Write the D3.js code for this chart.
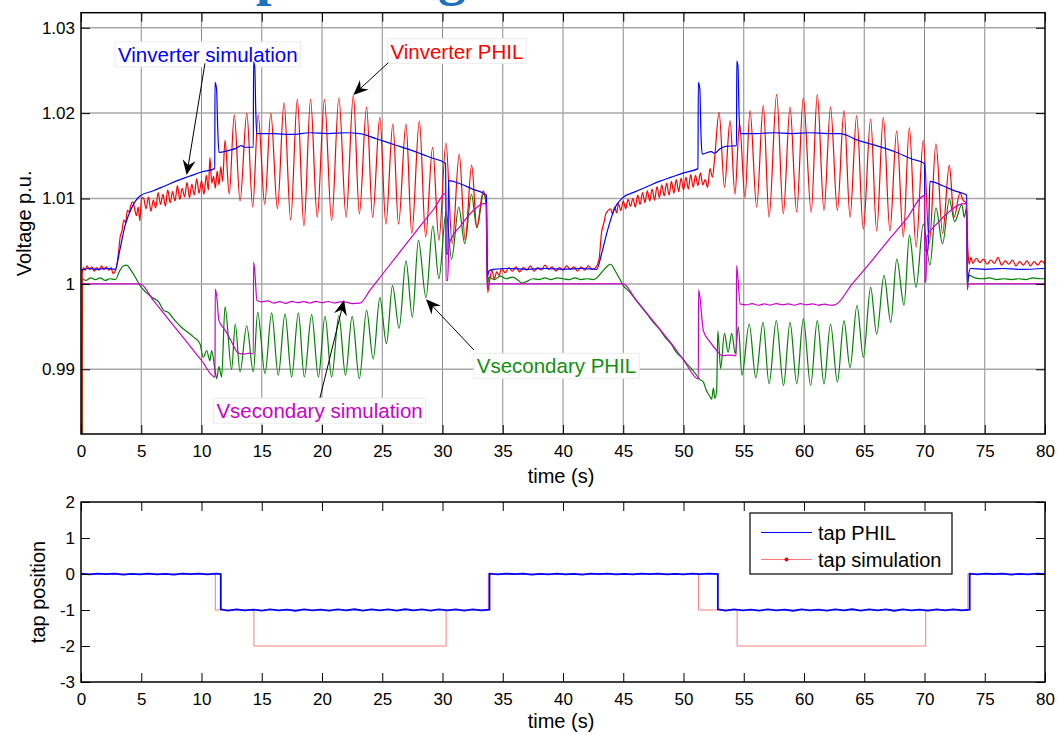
<!DOCTYPE html>
<html>
<head>
<meta charset="utf-8">
<script src="https://cdn.jsdelivr.net/npm/d3@7"></script>
<style>
  body { margin: 0; background: #fff; }
  svg { display: block; }
  text { font-family: Arial, "Liberation Sans", Helvetica, sans-serif; }
</style>
</head>
<body>
<svg id="chart" width="1058" height="735"></svg>
<script>
// ---------- axis ticks ----------
const timeTicks = [0, 5, 10, 15, 20, 25, 30, 35, 40, 45, 50, 55, 60, 65, 70, 75, 80];
const voltTicks = [0.99, 1.00, 1.01, 1.02, 1.03];
const voltTickLabels = ["0.99", "1", "1.01", "1.02", "1.03"];
const tapTicks = [-3, -2, -1, 0, 1, 2];
const tapTickLabels = ["-3", "-2", "-1", "0", "1", "2"];

// ---------- voltage traces: [time (s), voltage (p.u.)] ----------
const vInverterSim = [
  [0,1.0016],[0.6,1.0018],[1.3,1.0017],[2.0,1.0018],[2.85,1.0017],[3.2,1.0038],[3.65,1.0068],[4.2,1.0089],[4.9,1.0103],
  [6.0,1.0109],[7.0,1.0115],[8.0,1.0121],[9.0,1.0126],[10.0,1.0131],[11.1,1.0135],
  [11.12,1.0236],[11.25,1.0228],[11.35,1.0180],[11.45,1.0154],[12.2,1.0156],[12.9,1.0159],[13.3,1.0162],[13.6,1.0160],[14.3,1.0160],
  [14.32,1.0260],[14.42,1.0254],[14.5,1.0205],[14.58,1.0176],[16,1.0176],[17.5,1.0175],[19,1.0177],[20.5,1.0176],[22,1.0177],[23.15,1.0176],
  [24.5,1.0170],[26,1.0163],[27.5,1.0156],[29,1.0148],[30.26,1.0141],[30.3,1.0035],[30.45,1.0035],[30.5,1.0121],
  [31.5,1.0117],[32.5,1.0111],[33.65,1.0104],[33.72,1.0008],[33.85,1.0015],[34.2,1.0017],[35.5,1.0018],[37,1.0017],[38.5,1.0018],
  [40,1.0017],[41.5,1.0018],[42.8,1.0017],
  [43.2,1.0035],[43.7,1.0063],[44.3,1.0089],[44.97,1.0101],[46,1.0108],[47,1.0114],[48,1.0120],[49,1.0125],[50,1.0130],[51.2,1.0135],
  [51.23,1.0236],[51.35,1.0229],[51.45,1.0175],[51.55,1.0152],[52.3,1.0155],[52.6,1.0153],[53.0,1.0158],[53.5,1.0161],[54.4,1.0162],
  [54.42,1.0261],[54.52,1.0255],[54.6,1.0205],[54.7,1.0176],[56,1.0176],[57.5,1.0177],[59,1.0176],[60.5,1.0177],[62,1.0176],[63,1.0176],
  [64.5,1.0168],[66,1.0162],[67.5,1.0155],[69,1.0146],[70.0,1.0141],[70.04,1.0039],[70.3,1.0039],[70.45,1.0120],
  [71.5,1.0115],[72.5,1.0109],[73.5,1.0104],[73.55,1.0000],[73.65,1.0010],[73.8,1.0018],[75,1.0017],[76.5,1.0018],[78,1.0017],[80,1.0018]
];

const vSecondarySim = [
  [0,1.0000],[4.9,1.0000],[6,0.99807],[7,0.99631],[8,0.99455],[9,0.99280],[10,0.99104],[11.12,0.98907],
  [11.14,0.99940],[11.25,0.99870],[11.45,0.99570],[12.0,0.99450],[12.5,0.99320],[13.05,0.99190],[13.6,0.99180],[14.0,0.99190],[14.3,0.99180],
  [14.32,1.00254],[14.42,1.00150],[14.6,0.99805],[15.0,0.99790],[15.5,0.99800],[16.0,0.99775],[16.5,0.99792],[17.0,0.99772],
  [17.5,0.99795],[18.0,0.99780],[18.5,0.99792],[19.0,0.99776],[19.5,0.99796],[20.0,0.99780],[20.5,0.99794],[21.0,0.99776],
  [21.5,0.99790],[22.0,0.99786],[22.5,0.99770],[23.15,0.99775],
  [24.0,0.99930],[25.0,1.00110],[26.5,1.00380],[28.0,1.00650],[29.3,1.00880],[30.27,1.01060],[30.29,1.00040],[30.42,1.00040],
  [30.55,1.00470],[31.5,1.00680],[32.5,1.00850],[33.4,1.00940],[33.65,1.00940],[33.7,0.99940],[33.85,1.00000],[45.0,1.00000],
  [46,0.99825],[47,0.99650],[48,0.99475],[49,0.99300],[50,0.99110],[51.23,0.98888],
  [51.25,0.99930],[51.35,0.99860],[51.65,0.99450],[52.2,0.99320],[52.75,0.99220],[53.2,0.99160],[53.8,0.99165],[54.38,0.99160],
  [54.4,1.00215],[54.5,1.00100],[54.7,0.99766],[55.2,0.99755],[55.7,0.99768],[56.2,0.99750],[56.7,0.99765],[57.2,0.99752],
  [57.7,0.99770],[58.2,0.99755],[58.7,0.99766],[59.2,0.99750],[59.7,0.99768],[60.2,0.99755],[60.7,0.99765],[61.2,0.99752],
  [61.7,0.99764],[62.2,0.99750],[62.57,0.99755],
  [64,1.00000],[65.5,1.00250],[67,1.00510],[68.5,1.00760],[70.0,1.01034],[70.04,1.00020],[70.12,1.00020],[70.2,1.00550],
  [71,1.00700],[72,1.00840],[73.2,1.00940],[73.5,1.00940],[73.55,0.99930],[73.65,1.00000],[80,1.00000]
];

const vSecondaryPHIL = [
  [0.1,0.9750],[0.12,1.0006],[0.4,1.0004],[0.8,1.0007],[1.2,1.0005],[1.6,1.0007],[2.0,1.0004],[2.4,1.0006],[2.85,1.0005],
  [3.2,1.0015],[3.5,1.0021],[3.8,1.0022],[4.1,1.0017],[4.5,1.0008],[4.9,0.9998],[5.4,0.9990],[5.9,0.9984],[6.45,0.9979],
  [6.85,0.9969],[7.2,0.9967],[7.8,0.9957],[8.35,0.9949],[8.8,0.9944],[9.32,0.9938],[9.87,0.9930],[10.15,0.9914],[10.43,0.9922],
  [10.7,0.9910],[10.84,0.9922],[11.12,0.9899],[11.26,0.9889],[11.45,0.9903],[11.67,0.9891],
  [11.95,0.9973],[12.5,0.9900],[12.8,0.9953],[13.2,0.9897],[13.75,0.9951],[14.3,0.9897],[14.66,0.9967],[15.27,0.9895],
  [15.82,0.9966],[16.37,0.9893],[16.93,0.9965],[17.48,0.9891],[18.04,0.9966],[18.53,0.9891],[19.14,0.9964],[19.7,0.9891],
  [20.25,0.9962],[20.8,0.9891],[21.4,0.9963],[21.95,0.9893],[22.5,0.9962],[23.1,0.9889],[23.7,0.9969],[24.25,0.9912],
  [24.8,0.9984],[25.35,0.9930],[25.85,0.9998],[26.4,0.9948],[26.97,1.0027],[27.5,0.9961],[28.0,1.0051],[28.63,0.9984],
  [29.2,1.0068],[29.7,1.0006],[30.3,1.0084],[30.75,1.0029],[31.35,1.0090],[31.85,1.0047],[32.4,1.0105],[32.85,1.0066],
  [33.4,1.0105],[33.65,1.0095],[33.72,0.9998],[33.85,1.0008],[34.3,1.0005],[34.8,1.0009],[35.3,1.0006],[35.8,1.0008],
  [36.3,1.0004],[36.6,1.0001],[37.0,1.0003],[37.5,1.0006],[38.0,1.0005],[38.5,1.0007],[39.0,1.0005],[39.5,1.0007],
  [40.0,1.0006],[40.5,1.0005],[41.0,1.0007],[41.5,1.0005],[42.0,1.0006],[42.5,1.0005],[42.8,1.0007],
  [43.3,1.0015],[43.7,1.0021],[43.95,1.0023],[44.3,1.0016],[44.7,1.0006],[45.0,0.9998],[45.5,0.9991],[46.0,0.9982],
  [46.5,0.9973],[47.06,0.9963],[47.5,0.9955],[48.0,0.9947],[48.44,0.9938],[49.0,0.9929],[49.4,0.9920],[49.85,0.9914],
  [50.3,0.9906],[50.7,0.9900],[51.09,0.9893],[51.35,0.9888],[51.65,0.9885],[51.85,0.9877],[52.06,0.9871],[52.2,0.9868],
  [52.34,0.9865],[52.48,0.9878],[52.6,0.9866],[52.75,0.9875],
  [52.85,0.9945],[53.08,0.9901],[53.4,0.9942],[53.7,0.9920],[54.0,0.9942],[54.3,0.9918],[54.55,0.9950],[54.85,0.9893],
  [55.45,0.9953],[56.0,0.9890],[56.6,0.9955],[57.1,0.9883],[57.7,0.9957],[58.3,0.9881],[58.84,0.9955],[59.4,0.9883],
  [59.94,0.9959],[60.55,0.9881],[61.1,0.9957],[61.66,0.9883],[62.2,0.9953],[62.77,0.9885],[63.32,0.9957],[63.82,0.9902],
  [64.4,0.9975],[64.92,0.9914],[65.53,0.9996],[66.03,0.9941],[66.64,1.0010],[67.2,0.9955],[67.7,1.0029],[68.3,0.9975],
  [68.75,1.0057],[69.3,0.9996],[69.9,1.0070],[70.45,1.0022],[70.95,1.0089],[71.5,1.0047],[72.06,1.0099],[72.5,1.0073],
  [73.1,1.0093],[73.3,1.0078],[73.5,1.0090],[73.55,0.9998],[73.7,1.0010],[74.2,1.0007],[74.8,1.0006],[75.4,1.0007],
  [76.0,1.0005],[76.6,1.0006],[77.2,1.0005],[77.8,1.0006],[78.4,1.0005],[79.0,1.0007],[79.6,1.0006],[80,1.0006]
];

const vInverterPHIL = [
  [0.08,0.9750],[0.1,1.0012],[0.2,1.0019],[0.35,1.0016],[0.5,1.0021],[0.7,1.0017],[0.9,1.0020],[1.1,1.0015],[1.3,1.0019],
  [1.5,1.0016],[1.7,1.0021],[1.9,1.0017],[2.1,1.0020],[2.3,1.0016],[2.5,1.0019],[2.65,1.0012],[2.8,1.0014],[2.95,1.0020],
  [3.1,1.0035],[3.25,1.0055],[3.4,1.0062],[3.55,1.0075],[3.7,1.0072],[3.85,1.0086],[4.0,1.0084],[4.15,1.0093],[4.3,1.0096],
  [4.45,1.0088],[4.6,1.0080],[4.75,1.0090],[4.88,1.0074],[5.03,1.0101],
  [5.2,1.0100],[5.4,1.0088],[5.6,1.0102],[5.8,1.0085],[6.0,1.0098],[6.2,1.0089],[6.4,1.0107],[6.6,1.0093],[6.8,1.0105],
  [7.0,1.0091],[7.2,1.0110],[7.4,1.0095],[7.6,1.0108],[7.8,1.0097],[8.0,1.0115],[8.2,1.0099],[8.4,1.0112],[8.6,1.0102],
  [8.8,1.0119],[9.0,1.0101],[9.2,1.0117],[9.4,1.0104],[9.6,1.0123],[9.8,1.0106],[10.0,1.0121],[10.2,1.0105],[10.4,1.0127],
  [10.57,1.0110],[10.7,1.0148],[10.85,1.0118],[11.0,1.0126],[11.15,1.0112],[11.3,1.0132],[11.45,1.0116],[11.6,1.0137],
  [11.75,1.0120],
  [11.95,1.0168],[12.3,1.0105],[12.72,1.0198],[13.2,1.0097],[13.76,1.0200],[14.25,1.0090],[14.7,1.0198],[15.25,1.0093],
  [15.75,1.0200],[16.3,1.0088],[16.85,1.0212],[17.4,1.0075],[17.95,1.0216],[18.5,1.0068],[19.05,1.0216],[19.6,1.0078],
  [20.2,1.0216],[20.8,1.0074],[21.4,1.0218],[22.0,1.0078],[22.6,1.0221],[23.1,1.0082],[23.7,1.0207],[24.2,1.0078],
  [24.8,1.0195],[25.3,1.0070],[25.88,1.0187],[26.35,1.0070],[26.97,1.0187],[27.45,1.0059],[28.08,1.0191],[28.6,1.0055],
  [29.18,1.0160],[29.7,1.0051],[30.29,1.0165],[30.8,1.0047],[31.39,1.0152],[31.88,1.0051],[32.42,1.0139],[32.85,1.0066],
  [33.38,1.0109],[33.6,1.0095],[33.75,0.9990],[33.9,1.0003],[34.1,1.0016],[34.3,1.0006],[34.5,1.0014],[34.7,1.0010],
  [34.9,1.0018],[35.2,1.0013],[35.5,1.0019],[35.8,1.0015],[36.1,1.0020],[36.4,1.0014],[36.7,1.0019],[37.0,1.0016],
  [37.3,1.0021],[37.6,1.0015],[37.9,1.0019],[38.2,1.0016],[38.5,1.0022],[38.8,1.0017],[39.1,1.0020],[39.4,1.0015],
  [39.7,1.0019],[40.0,1.0016],[40.3,1.0021],[40.6,1.0017],[40.9,1.0020],[41.2,1.0015],[41.5,1.0020],[41.8,1.0016],
  [42.1,1.0021],[42.4,1.0017],[42.7,1.0019],
  [43.0,1.0030],[43.2,1.0060],[43.4,1.0072],[43.55,1.0082],[43.75,1.0086],[43.95,1.0088],[44.1,1.0082],[44.3,1.0090],
  [44.45,1.0083],[44.6,1.0094],[44.8,1.0086],[45.0,1.0097],[45.2,1.0088],[45.4,1.0099],[45.6,1.0091],[45.8,1.0100],
  [46.0,1.0090],[46.2,1.0104],[46.4,1.0093],[46.6,1.0107],[46.8,1.0095],[47.0,1.0109],[47.2,1.0097],[47.4,1.0111],
  [47.6,1.0098],[47.8,1.0114],[48.0,1.0101],[48.2,1.0116],[48.4,1.0103],[48.6,1.0118],[48.8,1.0104],[49.0,1.0120],
  [49.2,1.0106],[49.4,1.0122],[49.6,1.0108],[49.8,1.0124],[50.0,1.0110],[50.2,1.0125],[50.4,1.0111],[50.6,1.0128],
  [50.8,1.0113],[51.0,1.0127],[51.2,1.0115],[51.4,1.0130],[51.6,1.0116],[51.8,1.0122],[52.0,1.0113],[52.2,1.0135],
  [52.4,1.0125],[52.6,1.0150],
  [52.95,1.0201],[53.4,1.0113],[53.86,1.0191],[54.27,1.0105],[54.65,1.0188],[55.1,1.0101],[55.52,1.0203],[56.07,1.0090],
  [56.62,1.0209],[57.1,1.0078],[57.73,1.0222],[58.28,1.0082],[58.84,1.0207],[59.39,1.0084],[59.94,1.0218],[60.6,1.0084],
  [61.1,1.0222],[61.66,1.0086],[62.2,1.0207],[62.77,1.0086],[63.32,1.0203],[63.82,1.0078],[64.37,1.0197],[64.92,1.0064],
  [65.53,1.0193],[66.03,1.0062],[66.58,1.0195],[67.13,1.0062],[67.69,1.0179],[68.24,1.0055],[68.74,1.0183],[69.3,1.0043],
  [69.9,1.0168],[70.4,1.0047],[70.95,1.0164],[71.5,1.0059],[72.06,1.0139],[72.45,1.0078],[72.95,1.0107],[73.2,1.0098],
  [73.45,1.0095],[73.6,1.0040],[73.7,1.0023],[73.85,1.0031],[74.0,1.0024],[74.3,1.0030],[74.6,1.0025],[74.9,1.0029],
  [75.2,1.0023],[75.5,1.0028],[75.8,1.0024],[76.1,1.0031],[76.4,1.0022],[76.7,1.0027],[77.0,1.0023],[77.3,1.0028],
  [77.6,1.0021],[77.9,1.0026],[78.2,1.0022],[78.5,1.0027],[78.8,1.0021],[79.1,1.0026],[79.4,1.0022],[79.7,1.0027],[80,1.0023]
];

// ---------- tap position traces: [time (s), tap] ----------
const tapPHIL = [
  [0,0.01],[0.7,-0.01],[1.4,0.01],[2.1,-0.005],[2.8,0.01],[3.5,-0.015],[4.2,0.005],[4.9,-0.01],[5.6,0.01],[6.3,-0.01],
  [7.0,0.005],[7.7,-0.015],[8.4,0.01],[9.1,-0.005],[9.8,0.01],[10.5,-0.01],[11.2,0.01],[11.6,0.0],
  [11.6,-0.98],[12.2,-1.015],[12.9,-0.985],[13.6,-1.01],[14.3,-0.99],[15.0,-1.015],[15.7,-0.985],[16.4,-1.01],[17.1,-0.99],
  [17.8,-1.02],[18.5,-0.985],[19.2,-1.01],[19.9,-0.99],[20.6,-1.015],[21.3,-0.985],[22.0,-1.01],[22.7,-0.98],[23.4,-1.015],
  [24.1,-0.985],[24.8,-1.01],[25.5,-0.985],[26.2,-1.015],[26.9,-0.98],[27.6,-1.01],[28.3,-0.985],[29.0,-1.015],[29.7,-0.985],
  [30.4,-1.01],[31.1,-0.985],[31.8,-1.015],[32.5,-0.985],[33.2,-1.01],[33.9,-0.99],
  [33.9,0.01],[34.6,-0.01],[35.3,0.01],[36.0,-0.005],[36.7,0.01],[37.4,-0.015],[38.1,0.005],[38.8,-0.01],[39.5,0.01],
  [40.2,-0.01],[40.9,0.005],[41.6,-0.015],[42.3,0.01],[43.0,-0.005],[43.7,0.01],[44.4,-0.01],[45.1,0.005],[45.8,-0.01],
  [46.5,0.01],[47.2,-0.005],[47.9,0.01],[48.6,-0.01],[49.3,0.005],[50.0,-0.01],[50.7,0.01],[51.4,-0.005],[52.1,0.01],[52.85,0.0],
  [52.85,-0.98],[53.5,-1.015],[54.2,-0.985],[54.9,-1.01],[55.6,-0.99],[56.3,-1.015],[57.0,-0.985],[57.7,-1.01],[58.4,-0.99],
  [59.1,-1.02],[59.8,-0.985],[60.5,-1.01],[61.2,-0.99],[61.9,-1.015],[62.6,-0.985],[63.3,-1.01],[64.0,-0.98],[64.7,-1.015],
  [65.4,-0.985],[66.1,-1.01],[66.8,-0.985],[67.5,-1.02],[68.2,-0.985],[68.9,-1.01],[69.6,-0.99],[70.3,-1.015],[71.0,-0.985],
  [71.7,-1.01],[72.4,-0.985],[73.1,-1.01],[73.75,-0.99],
  [73.75,0.01],[74.4,-0.01],[75.1,0.01],[75.8,-0.005],[76.5,0.01],[77.2,-0.015],[77.9,0.005],[78.6,-0.01],[79.3,0.01],[80,0.0]
];

const tapSim = [
  [0,0],[11.15,0],[11.15,-1],[14.35,-1],[14.35,-2],[30.3,-2],[30.3,-1],[33.8,-1],[33.8,0],
  [51.25,0],[51.25,-1],[54.45,-1],[54.45,-2],[70.1,-2],[70.1,-1],[73.6,-1],[73.6,0],[80,0]
];

// ---------- annotations ----------
const labelNotes = [
  { text: "Vinverter simulation", t: 3.07, v: 1.0260, color: "#0000ff" },
  { text: "Vinverter PHIL", t: 25.68, v: 1.02638, color: "#ff0000" },
  { text: "Vsecondary PHIL", t: 32.84, v: 0.98953, color: "#109010" },
  { text: "Vsecondary simulation", t: 11.24, v: 0.98427, color: "#cc00cc" }
];
const arrowNotes = [
  { from: [10.29, 1.02583], to: [8.77, 1.01275] },
  { from: [25.5, 1.02590], to: [22.6, 1.02212] },
  { from: [32.61, 0.99226], to: [28.63, 0.99820] },
  { from: [19.83, 0.98664], to: [21.83, 0.99811] }
];
const legendItems = [
  { label: "tap PHIL", color: "#0000ff", dot: false },
  { label: "tap simulation", color: "#ff7a7a", dot: true }
];

// ---------- layout ----------
const svg = d3.select("#chart");
const left = 81, right = 1045;
const topPanel = { y0: 12.7, y1: 434 };
const tapPanel = { y0: 502, y1: 682 };

const x = d3.scaleLinear().domain([0, 80]).range([left, right]);
const yV = d3.scaleLinear().domain([0.98242, 1.03176]).range([topPanel.y1, topPanel.y0]);
const yT = d3.scaleLinear().domain([-3, 2]).range([tapPanel.y1, tapPanel.y0]);

// page heading, mostly above the visible area
svg.append("text")
  .attr("y", -6)
  .attr("fill", "#1e6fbf")
  .style("font-family", "'Liberation Serif', 'Times New Roman', serif")
  .style("font-weight", "bold")
  .style("font-size", "56px")
  .call(t => {
    t.append("tspan").attr("x", 256).text("p");
    t.append("tspan").attr("x", 438).text("g");
  });

const defs = svg.append("defs");
defs.append("clipPath").attr("id", "clipTop").append("rect")
  .attr("x", left).attr("y", topPanel.y0).attr("width", right - left).attr("height", topPanel.y1 - topPanel.y0);
defs.append("clipPath").attr("id", "clipTap").append("rect")
  .attr("x", left).attr("y", tapPanel.y0).attr("width", right - left).attr("height", tapPanel.y1 - tapPanel.y0);

// ---------- top panel: grid ----------
const gridTop = svg.append("g");
gridTop.selectAll("line.vg").data(timeTicks.filter(d => d > 0 && d < 80)).join("line")
  .attr("x1", d => x(d)).attr("x2", d => x(d))
  .attr("y1", topPanel.y0).attr("y2", topPanel.y1)
  .attr("stroke", "#8a8a8a").attr("stroke-width", 1);
gridTop.selectAll("line.hg").data(voltTicks).join("line")
  .attr("x1", left).attr("x2", right)
  .attr("y1", d => yV(d)).attr("y2", d => yV(d))
  .attr("stroke", "#a8a8a8").attr("stroke-width", 1.5);

// annotation text boxes (white background)
const noteLayer = svg.append("g");
const noteBoxes = noteLayer.append("g");
const dataLayer = svg.append("g").attr("clip-path", "url(#clipTop)");
const noteTexts = noteLayer.append("g");

const lineV = d3.line().x(d => x(d[0])).y(d => yV(d[1])).curve(d3.curveMonotoneX);
const lineT = d3.line().x(d => x(d[0])).y(d => yT(d[1]));

const voltSeries = [
  { data: vSecondaryPHIL, color: "#008000" },
  { data: vInverterPHIL, color: "#ff0000" },
  { data: vInverterSim, color: "#0000ff" },
  { data: vSecondarySim, color: "#cc00cc" }
];
dataLayer.selectAll("path").data(voltSeries).join("path")
  .attr("d", d => lineV(d.data))
  .attr("fill", "none")
  .attr("stroke", d => d.color)
  .attr("stroke-width", 1.2)
  .attr("stroke-linejoin", "round");

// annotation labels
const noteSel = noteTexts.selectAll("text").data(labelNotes).join("text")
  .attr("x", d => x(d.t)).attr("y", d => yV(d.v))
  .attr("fill", d => d.color)
  .style("font-size", "20.5px")
  .text(d => d.text);
noteSel.each(function(d) {
  const b = this.getBBox();
  noteBoxes.append("rect")
    .attr("x", b.x - 3).attr("y", b.y - 1)
    .attr("width", b.width + 6).attr("height", b.height + 2)
    .attr("fill", "#fff").attr("stroke", "#ececec").attr("stroke-width", 1);
});

// arrows
const arrowLayer = svg.append("g");
arrowNotes.forEach(a => {
  const x0 = x(a.from[0]), y0 = yV(a.from[1]);
  const x1 = x(a.to[0]), y1 = yV(a.to[1]);
  const dx = x1 - x0, dy = y1 - y0, len = Math.hypot(dx, dy);
  const ux = dx / len, uy = dy / len, nx = -uy, ny = ux;
  const L = 15, w = 6.5, notch = 10;
  arrowLayer.append("line")
    .attr("x1", x0).attr("y1", y0)
    .attr("x2", x1 - ux * notch).attr("y2", y1 - uy * notch)
    .attr("stroke", "#000").attr("stroke-width", 1);
  const bx = x1 - ux * L, by = y1 - uy * L;
  arrowLayer.append("path")
    .attr("d", `M${x1},${y1}L${bx + nx * w},${by + ny * w}L${x1 - ux * notch},${y1 - uy * notch}L${bx - nx * w},${by - ny * w}Z`)
    .attr("fill", "#000");
});

// ---------- axes helper ----------
function styleAxis(g, fontSize) {
  g.select(".domain").remove();
  g.selectAll(".tick line").attr("stroke", "#000").attr("stroke-width", 1);
  g.selectAll(".tick text").attr("fill", "#000").style("font-size", fontSize + "px")
    .style("font-family", "Arial, 'Liberation Sans', sans-serif");
}

function drawFrame(panel, yScale, yTickVals, yLabels) {
  const gB = svg.append("g").attr("transform", `translate(0,${panel.y1})`)
    .call(d3.axisBottom(x).tickValues(timeTicks).tickSizeInner(-9).tickSizeOuter(0).tickPadding(10.5).tickFormat(d3.format("d")));
  styleAxis(gB, 17);
  const gT = svg.append("g").attr("transform", `translate(0,${panel.y0})`)
    .call(d3.axisTop(x).tickValues(timeTicks).tickSizeInner(-9).tickSizeOuter(0).tickFormat(""));
  styleAxis(gT, 17);
  const gL = svg.append("g").attr("transform", `translate(${left},0)`)
    .call(d3.axisLeft(yScale).tickValues(yTickVals).tickSizeInner(-9).tickSizeOuter(0).tickPadding(6)
      .tickFormat((d, i) => yLabels[i]));
  styleAxis(gL, 17);
  const gR = svg.append("g").attr("transform", `translate(${right},0)`)
    .call(d3.axisRight(yScale).tickValues(yTickVals).tickSizeInner(-9).tickSizeOuter(0).tickFormat(""));
  styleAxis(gR, 17);
  svg.append("rect")
    .attr("x", left).attr("y", panel.y0)
    .attr("width", right - left).attr("height", panel.y1 - panel.y0)
    .attr("fill", "none").attr("stroke", "#000").attr("stroke-width", 1.5);
}

drawFrame(topPanel, yV, voltTicks, voltTickLabels);

// ---------- tap panel ----------
const tapLayer = svg.append("g").attr("clip-path", "url(#clipTap)");
tapLayer.append("path").attr("d", lineT(tapSim))
  .attr("fill", "none").attr("stroke", "#ff7a7a").attr("stroke-width", 1);
tapLayer.append("path").attr("d", lineT(tapPHIL))
  .attr("fill", "none").attr("stroke", "#0000ff").attr("stroke-width", 1.8);

drawFrame(tapPanel, yT, tapTicks, tapTickLabels);

// legend
const lg = svg.append("g").attr("transform", "translate(750,513)");
lg.append("rect").attr("width", 202).attr("height", 61)
  .attr("fill", "#fff").attr("stroke", "#000").attr("stroke-width", 1.2);
legendItems.forEach((it, i) => {
  const cy = 19.5 + i * 27;
  lg.append("line").attr("x1", 11).attr("x2", 62).attr("y1", cy).attr("y2", cy)
    .attr("stroke", it.color).attr("stroke-width", 1);
  if (it.dot) lg.append("circle").attr("cx", 36.5).attr("cy", cy).attr("r", 2).attr("fill", "#ff0000");
  lg.append("text").attr("x", 68).attr("y", cy).attr("dy", "0.35em")
    .style("font-size", "20px").attr("fill", "#000").text(it.label);
});

// ---------- axis titles ----------
svg.append("text").attr("x", (left + right) / 2 - 2).attr("y", 483)
  .attr("text-anchor", "middle").style("font-size", "20px").text("time (s)");
svg.append("text").attr("x", (left + right) / 2 - 2).attr("y", 728)
  .attr("text-anchor", "middle").style("font-size", "20px").text("time (s)");
svg.append("text").attr("transform", `translate(31,${(topPanel.y0 + topPanel.y1) / 2}) rotate(-90)`)
  .attr("text-anchor", "middle").style("font-size", "20px").text("Voltage p.u.");
svg.append("text").attr("transform", `translate(45,${(tapPanel.y0 + tapPanel.y1) / 2}) rotate(-90)`)
  .attr("text-anchor", "middle").style("font-size", "20px").text("tap position");
</script>
</body>
</html>
